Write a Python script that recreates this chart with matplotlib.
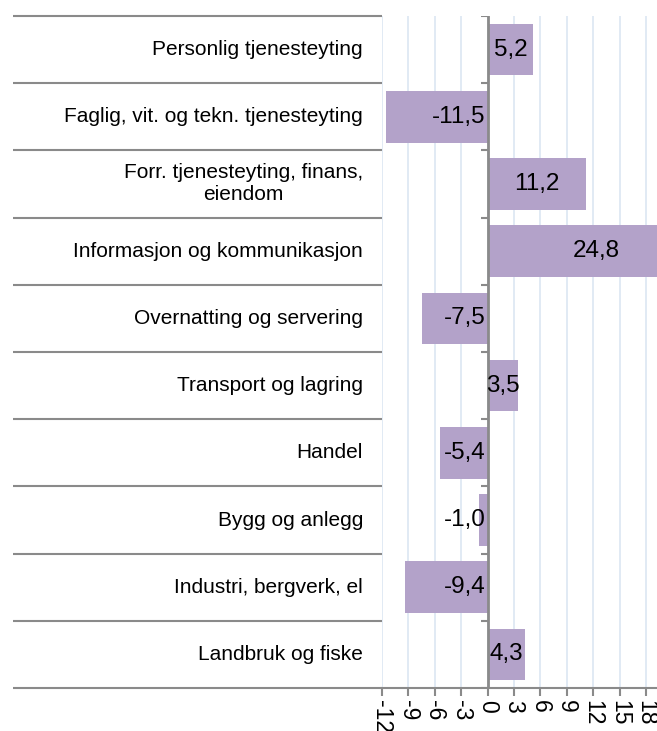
import matplotlib.pyplot as plt
import numpy as np

plt.rcParams['font.family'] = ['Liberation Sans', 'DejaVu Sans']

categories = ['Landbruk og fiske', 'Industri, bergverk, el', 'Bygg og anlegg',
              'Handel', 'Transport og lagring', 'Overnatting og servering',
              'Informasjon og kommunikasjon',
              'Forr. tjenesteyting, finans,\neiendom',
              'Faglig, vit. og tekn. tjenesteyting', 'Personlig tjenesteyting']
values = [4.3, -9.4, -1.0, -5.4, 3.5, -7.5, 24.8, 11.2, -11.5, 5.2]
xticks = [-12, -9, -6, -3, 0, 3, 6, 9, 12, 15, 18]

bar_color = '#b3a2c9'
line_gray = '#8a8a8a'
grid_color = '#dce6f2'

fig = plt.figure(figsize=(6.57, 7.31), dpi=100)
ax = fig.add_axes([382 / 657, 1 - 688 / 731, 1 - 382 / 657, (688 - 16) / 731])

y = np.arange(len(categories))
ax.barh(y, values, height=0.77, color=bar_color, zorder=2)

ax.set_xlim(-12, 19.25)
ax.set_ylim(-0.5, len(categories) - 0.5)

# gridlines
ax.set_xticks(xticks)
ax.set_xticklabels([str(t) for t in xticks], rotation=-90, fontsize=16.5)
ax.xaxis.grid(True, color=grid_color, linewidth=1.2, zorder=0)
ax.set_axisbelow(True)
ax.tick_params(axis='x', length=6, color=line_gray, width=1.5, pad=3)

# y axis drawn at zero
for s in ['top', 'right', 'left']:
    ax.spines[s].set_visible(False)
ax.spines['bottom'].set_color(line_gray)
ax.spines['bottom'].set_linewidth(1.5)
ax.axvline(0, color=line_gray, linewidth=2, zorder=3)
ax.set_yticks([])
bounds = np.arange(len(categories) + 1) - 0.5
ax.hlines(bounds, -0.7, 0, color=line_gray, linewidth=1.5, zorder=3)

# separator lines to the left
ax.hlines(bounds, -369 / 275, 0, transform=ax.get_yaxis_transform(),
          color=line_gray, linewidth=1.5, clip_on=False)

# category labels
for yi, cat in zip(y, categories):
    ax.text(-19 / 275, yi, cat, transform=ax.get_yaxis_transform(),
            ha='right', va='center', ma='center', fontsize=15, clip_on=False)

# value labels
for yi, v in zip(y, values):
    txt = f'{v:.1f}'.replace('.', ',')
    if v >= 0:
        ax.text(v / 2, yi, txt, ha='center', va='center', fontsize=17.5, zorder=4)
    else:
        ax.text(-0.2, yi, txt, ha='right', va='center', fontsize=17.5, zorder=4)

fig.savefig('out.png', dpi=100)
